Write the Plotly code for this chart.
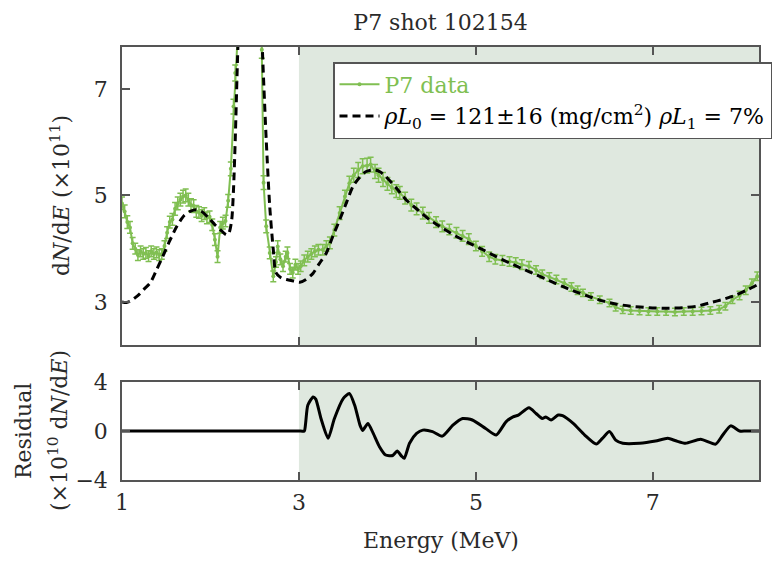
import plotly.graph_objects as go

# ---------------- data ----------------
data_x = [1.00, 1.03, 1.06, 1.09, 1.12, 1.15, 1.18, 1.21, 1.24, 1.27, 1.30, 1.33, 1.36, 1.39,
          1.42, 1.45, 1.48, 1.51, 1.54, 1.57, 1.60, 1.63, 1.66, 1.69, 1.72, 1.75, 1.78, 1.81,
          1.84, 1.87, 1.90, 1.93, 1.96, 1.99, 2.02, 2.05, 2.08, 2.11, 2.14, 2.17, 2.20, 2.23,
          2.26, 2.28, 2.31, 2.35, 2.40, 2.45, 2.50, 2.55, 2.58, 2.60, 2.63, 2.67, 2.71, 2.74,
          2.76, 2.79, 2.82, 2.85, 2.87, 2.90, 2.93, 2.96, 2.99, 3.02, 3.06, 3.10, 3.14, 3.18,
          3.22, 3.27, 3.31, 3.35, 3.40, 3.46, 3.52, 3.57, 3.62, 3.67, 3.72, 3.77, 3.81, 3.86,
          3.90, 3.95, 4.00, 4.05, 4.10, 4.14, 4.20, 4.27, 4.33, 4.40, 4.47, 4.55, 4.62, 4.70,
          4.78, 4.85, 4.92, 5.00, 5.07, 5.15, 5.22, 5.30, 5.38, 5.45, 5.52, 5.60, 5.68, 5.75,
          5.83, 5.91, 6.00, 6.08, 6.15, 6.21, 6.30, 6.40, 6.51, 6.58, 6.66, 6.75, 6.85, 6.95,
          7.05, 7.15, 7.25, 7.35, 7.45, 7.55, 7.65, 7.75, 7.82, 7.90, 7.98, 8.05, 8.12, 8.18]
data_y = [4.85, 4.70, 4.50, 4.40, 4.10, 4.00, 3.88, 3.95, 3.90, 3.92, 3.86, 3.95, 3.90, 3.93,
          3.88, 3.90, 4.05, 4.30, 4.50, 4.55, 4.75, 4.85, 4.92, 4.98, 5.00, 4.92, 4.82, 4.80,
          4.70, 4.68, 4.62, 4.66, 4.58, 4.60, 4.45, 4.17, 3.85, 4.40, 4.48, 4.52, 4.90, 5.50,
          6.67, 7.30, 8.50, 10.0, 11.0, 11.5, 10.5, 9.00, 7.74, 5.24, 4.42, 3.92, 3.48, 3.75,
          4.04, 3.80, 3.67, 3.85, 3.92, 3.62, 3.55, 3.70, 3.62, 3.67, 3.78, 3.85, 3.90, 3.95,
          3.98, 3.98, 4.05, 4.11, 4.35, 4.67, 4.98, 5.23, 5.38, 5.48, 5.55, 5.56, 5.58, 5.45,
          5.38, 5.30, 5.22, 5.15, 5.08, 5.05, 4.95, 4.82, 4.75, 4.67, 4.58, 4.50, 4.42, 4.36,
          4.30, 4.24, 4.18, 4.05, 3.95, 3.85, 3.80, 3.78, 3.76, 3.74, 3.70, 3.67, 3.60, 3.52,
          3.47, 3.42, 3.35, 3.28, 3.22, 3.17, 3.10, 3.04, 2.98, 2.90, 2.85, 2.84, 2.83, 2.82,
          2.82, 2.82, 2.81, 2.82, 2.82, 2.83, 2.84, 2.86, 2.92, 3.04, 3.12, 3.22, 3.35, 3.48]
data_err = [0.12, 0.12, 0.12, 0.11, 0.11, 0.10, 0.10, 0.10, 0.10, 0.10, 0.10, 0.10, 0.10, 0.10,
            0.10, 0.10, 0.10, 0.11, 0.11, 0.11, 0.12, 0.12, 0.12, 0.12, 0.12, 0.12, 0.12, 0.12,
            0.11, 0.11, 0.11, 0.11, 0.11, 0.11, 0.11, 0.11, 0.11, 0.11, 0.11, 0.11, 0.12, 0.13,
            0.14, 0.15, 0.16, 0.18, 0.20, 0.20, 0.20, 0.18, 0.16, 0.13, 0.12, 0.11, 0.10, 0.10,
            0.11, 0.10, 0.10, 0.10, 0.11, 0.10, 0.10, 0.10, 0.10, 0.10, 0.10, 0.10, 0.10, 0.10,
            0.10, 0.10, 0.10, 0.11, 0.11, 0.12, 0.12, 0.13, 0.13, 0.14, 0.14, 0.14, 0.14, 0.13,
            0.13, 0.13, 0.12, 0.12, 0.12, 0.12, 0.11, 0.11, 0.11, 0.11, 0.10, 0.10, 0.10, 0.10,
            0.10, 0.10, 0.10, 0.09, 0.09, 0.09, 0.09, 0.09, 0.09, 0.09, 0.09, 0.09, 0.08, 0.08,
            0.08, 0.08, 0.08, 0.08, 0.08, 0.07, 0.07, 0.07, 0.07, 0.07, 0.07, 0.07, 0.07, 0.07,
            0.07, 0.07, 0.07, 0.07, 0.07, 0.07, 0.07, 0.07, 0.07, 0.07, 0.08, 0.08, 0.08, 0.08]

model_x = [1.00, 1.05, 1.10, 1.15, 1.20, 1.25, 1.32, 1.39, 1.46, 1.54, 1.62, 1.70, 1.77, 1.84,
           1.90, 1.99, 2.05, 2.11, 2.18, 2.21, 2.24, 2.26, 2.28, 2.31, 2.35, 2.45, 2.55, 2.59,
           2.63, 2.67, 2.71, 2.74, 2.80, 2.86, 2.95, 3.01, 3.08, 3.16, 3.23, 3.31, 3.38, 3.46,
           3.54, 3.61, 3.68, 3.76, 3.86, 3.92, 3.98, 4.10, 4.21, 4.35, 4.48, 4.63, 4.78, 4.93,
           5.08, 5.23, 5.38, 5.53, 5.68, 5.83, 5.98, 6.13, 6.28, 6.43, 6.58, 6.75, 6.96, 7.15,
           7.34, 7.50, 7.64, 7.80, 7.94, 8.06, 8.18]
model_y = [3.00, 2.99, 3.02, 3.08, 3.15, 3.24, 3.36, 3.60, 3.85, 4.15, 4.42, 4.62, 4.70, 4.73,
           4.70, 4.56, 4.45, 4.36, 4.26, 4.30, 4.54, 5.10, 6.05, 7.80, 9.50, 11.0, 9.50, 7.60,
           6.05, 4.79, 3.98, 3.55, 3.45, 3.42, 3.39, 3.37, 3.42, 3.54, 3.72, 3.92, 4.22, 4.54,
           4.88, 5.17, 5.33, 5.45, 5.48, 5.44, 5.36, 5.14, 4.92, 4.72, 4.54, 4.38, 4.23, 4.10,
           3.98, 3.85, 3.73, 3.62, 3.51, 3.40, 3.29, 3.19, 3.10, 3.02, 2.96, 2.92, 2.89, 2.88,
           2.89, 2.92, 2.98, 3.05, 3.13, 3.22, 3.32]

res_x = [1.00, 2.00, 2.90, 3.00, 3.06, 3.075, 3.10, 3.16, 3.19, 3.25, 3.33, 3.40, 3.50, 3.57,
         3.63, 3.69, 3.72, 3.78, 3.84, 3.91, 3.98, 4.06, 4.11, 4.16, 4.19, 4.25, 4.33, 4.40,
         4.51, 4.62, 4.74, 4.85, 4.96, 5.11, 5.23, 5.34, 5.42, 5.48, 5.60, 5.68, 5.75, 5.79,
         5.85, 5.93, 5.98, 6.10, 6.23, 6.36, 6.43, 6.51, 6.58, 6.66, 6.85, 7.03, 7.17, 7.26,
         7.37, 7.54, 7.71, 7.79, 7.88, 7.98, 8.05, 8.20]
res_y = [0.0, 0.0, 0.0, 0.0, 0.0, 0.6, 2.1, 2.78, 2.6, 1.0, -0.6, 1.0, 2.65, 3.06,
         2.1, 0.48, 0.05, 0.62, -0.2, -1.28, -1.96, -2.0, -1.64, -2.05, -2.23, -1.0, -0.2, 0.07,
         -0.05, -0.42, 0.48, 1.02, 0.9, 0.2, -0.33, 0.75, 1.16, 1.3, 1.89, 1.43, 1.02, 1.15,
         0.89, 1.3, 1.25, 0.62, -0.33, -1.07, -0.6, -0.05, -0.74, -1.0, -1.0, -0.82, -0.6, -0.8,
         -1.0, -0.68, -1.07, -0.33, 0.42, 0.0, 0.0, 0.0]

x_ticks = [1, 3, 5, 7]
top_y_ticks = [3, 5, 7]
res_y_ticks = [-4, 0, 4]
fit_start = 3.0

title_text = "P7 shot 102154"
data_name = "P7 data"
model_name = "<i>ρL</i><sub>0</sub> = 121±16 (mg/cm<sup>2</sup>) <i>ρL</i><sub>1</sub> = 7%"

# ---------------- style ----------------
GREEN = "#80bf52"
SHADE = "#dfe8df"
FRAME = "#555555"
FONT = "DejaVu Serif"
FS = 22
TXT = "#2a2a2a"

fig = go.Figure()

fig.add_trace(go.Scatter(
    x=data_x, y=data_y, mode="lines+markers",
    name=f'<span style="color:{GREEN}">{data_name}</span>',
    line=dict(color=GREEN, width=2), marker=dict(color=GREEN, size=4),
    error_y=dict(type="data", array=data_err, color=GREEN, thickness=1.5, width=3),
    xaxis="x", yaxis="y"))
fig.add_trace(go.Scatter(
    x=model_x, y=model_y, mode="lines", name=model_name,
    line=dict(color="black", width=3, dash="8px,5px", shape="spline", smoothing=0.7),
    xaxis="x", yaxis="y"))
fig.add_trace(go.Scatter(
    x=res_x, y=res_y, mode="lines", showlegend=False,
    line=dict(color="black", width=3, shape="spline", smoothing=0.6),
    xaxis="x2", yaxis="y2"))

# shaded fit region
for xr, yr in (("x", "y domain"), ("x2", "y2 domain")):
    fig.add_shape(type="rect", xref=xr, yref=yr, x0=fit_start, x1=8.2, y0=0, y1=1,
                  fillcolor=SHADE, line=dict(width=0), layer="below")

tick_font = dict(family=FONT, size=FS, color=TXT)
axis_common = dict(range=[1, 8.2], showline=True, linecolor=FRAME, linewidth=1.5,
                   mirror="allticks", ticks="inside", ticklen=8, tickwidth=1.5,
                   tickcolor=FRAME, showgrid=False, zeroline=False,
                   tickvals=x_ticks, tickfont=tick_font)
yaxis_common = dict(showline=True, linecolor=FRAME, linewidth=1.5, mirror="allticks",
                    ticks="inside", ticklen=8, tickwidth=1.5, tickcolor=FRAME,
                    showgrid=False, zeroline=False, ticklabelstandoff=8, tickfont=tick_font)

top_lo = (480 - 345) / 433
res_hi = (480 - 382) / 433

fig.update_layout(
    width=774, height=562,
    margin=dict(l=122, r=15, t=47, b=82, autoexpand=False),
    paper_bgcolor="white", plot_bgcolor="white",
    font=dict(family=FONT, size=FS, color=TXT),
    title=dict(text=title_text, x=0.5, xref="paper", y=1 - 22 / 562, yref="container",
               yanchor="middle", font=dict(family=FONT, size=FS, color=TXT)),
    xaxis=dict(axis_common, anchor="y", showticklabels=False, matches="x2"),
    xaxis2=dict(axis_common, anchor="y2", ticklabelstandoff=2),
    yaxis=dict(yaxis_common, domain=[top_lo, 1], range=[2.19, 7.79], anchor="x",
               tickvals=top_y_ticks),
    yaxis2=dict(yaxis_common, domain=[0, res_hi], range=[-4, 4], anchor="x2",
                tickvals=res_y_ticks),
    legend=dict(x=(333 - 122) / 637, xanchor="left", y=1 - (62 - 47) / 433, yanchor="top",
                bgcolor="white", bordercolor=FRAME, borderwidth=1.5, itemwidth=40,
                font=dict(family=FONT, size=FS, color="black"), tracegroupgap=0),
    showlegend=True,
)

ann_font = dict(family=FONT, size=FS, color=TXT)
fig.add_annotation(text="d<i>N</i>/d<i>E</i> (×10<sup>11</sup>)", x=(60 - 122) / 637,
                   y=(top_lo + 1) / 2, xref="paper", yref="paper", textangle=-90,
                   showarrow=False, xanchor="center", yanchor="middle", font=ann_font)
fig.add_annotation(text="Residual", x=(23 - 122) / 637, y=(480 - 431) / 433,
                   xref="paper", yref="paper", textangle=-90, showarrow=False,
                   xanchor="center", yanchor="middle", font=ann_font)
fig.add_annotation(text="(×10<sup>10</sup> d<i>N</i>/d<i>E</i>)", x=(58 - 122) / 637,
                   y=(480 - 431) / 433, xref="paper", yref="paper", textangle=-90,
                   showarrow=False, xanchor="center", yanchor="middle", font=ann_font)
fig.add_annotation(text="Energy (MeV)", x=0.5, y=(480 - 540) / 433, xref="paper",
                   yref="paper", showarrow=False, xanchor="center", yanchor="middle",
                   font=ann_font)

fig.write_html("out.html")
